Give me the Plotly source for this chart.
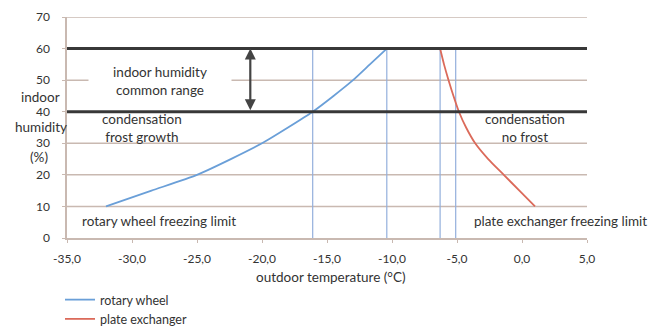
import plotly.graph_objects as go

# data
rotary_temp = [-32.0, -28.5, -25.0, -22.4, -20.0, -18.0, -16.1, -14.5, -13.0, -11.7, -10.4]
rotary_hum = [10, 15, 20, 25, 30, 35, 40, 45, 50, 55, 60]
plate_temp = [-6.3, -6.0, -5.65, -5.27, -4.85, -4.3, -3.6, -2.6, -1.4, -0.2, 1.0]
plate_hum = [60, 55, 50, 45, 40, 35, 30, 25, 20, 15, 10]
vlines_x = [-16.1, -10.4, -6.3, -5.1]
thin_grid_y = [10, 20, 30, 50, 70]
thick_grid_y = [40, 60]
x_ticks = [-35, -30, -25, -20, -15, -10, -5, 0, 5]
x_tick_text = ["-35,0", "-30,0", "-25,0", "-20,0", "-15,0", "-10,0", "-5,0", "0,0", "5,0"]
y_ticks = [0, 10, 20, 30, 40, 50, 60, 70]

FONT = "Lato"
TXT = "#333333"
GRID = "#c9b9b1"
FS = 13.5

fig = go.Figure()

shapes = []
for y in thin_grid_y:
    shapes.append(dict(type="line", xref="x", yref="y", x0=-35, x1=5, y0=y, y1=y,
                       line=dict(color=GRID, width=1.5), layer="below"))
for x in vlines_x:
    shapes.append(dict(type="line", xref="x", yref="y", x0=x, x1=x, y0=0, y1=60,
                       line=dict(color="#93afdc", width=1.2), layer="below"))
for y in thick_grid_y:
    shapes.append(dict(type="line", xref="x", yref="y", x0=-35, x1=5, y0=y, y1=y,
                       line=dict(color="#383838", width=3)))

fig.add_trace(go.Scatter(x=rotary_temp, y=rotary_hum, mode="lines", name="rotary wheel",
                         line=dict(color="#6a9fd8", width=1.8, shape="spline", smoothing=0.6)))
fig.add_trace(go.Scatter(x=plate_temp, y=plate_hum, mode="lines", name="plate exchanger",
                         line=dict(color="#db6a5a", width=1.8, shape="spline", smoothing=0.6)))

ann = []
def text(x, y, t, xanchor="center", bg=None, width=None, size=FS):
    d = dict(x=x, y=y, xref="paper", yref="paper", text=t, showarrow=False, xanchor=xanchor,
             yanchor="middle", align="center", font=dict(family=FONT, size=size, color=TXT))
    if bg:
        d["bgcolor"] = bg
    if width:
        d["width"] = width
    ann.append(d)

text(160, 81, "indoor humidity<br>common range", bg="white", width=140)
text(100, 128, "condensation<br>frost growth", xanchor="left")
text(525, 128, "condensation<br>no frost")
text(80, 221, "rotary wheel freezing limit", xanchor="left")
text(472, 221, "plate exchanger freezing limit", xanchor="left")
text(40, 97, "indoor")
text(41, 127, "humidity")
text(39, 157, "(%)")
text(331, 277, "outdoor temperature (°C)")

# convert pixel-based annotations to paper coords
W, H = 652, 327
L, R, T, B = 67, 65, 17, 89
pw, ph = W - L - R, H - T - B
for a in ann:
    a["x"] = (a["x"] - L) / pw
    a["y"] = 1 - (a["y"] - T) / ph

# double-headed arrow
ann.append(dict(x=-20.9, y=60, ax=-20.9, ay=40, xref="x", yref="y", axref="x", ayref="y",
                showarrow=True, arrowhead=2, startarrowhead=2, arrowside="end+start",
                arrowwidth=2.2, arrowcolor="#444", arrowsize=1, startarrowsize=1, text=""))

fig.update_layout(
    width=W, height=H,
    margin=dict(l=L, r=R, t=T, b=B, autoexpand=False),
    plot_bgcolor="white", paper_bgcolor="white",
    shapes=shapes, annotations=ann,
    showlegend=True,
    legend=dict(x=(60 - L) / pw, y=1 - (285 - T) / ph, xanchor="left", yanchor="top",
                bgcolor="rgba(0,0,0,0)", font=dict(family=FONT, size=12.5, color=TXT),
                tracegroupgap=0, itemwidth=30),
    xaxis=dict(range=[-35, 5], tickvals=x_ticks, ticktext=x_tick_text, showgrid=False,
               zeroline=False, showline=True, linecolor=GRID, linewidth=1.5,
               ticks="outside", ticklen=3, tickcolor=GRID, ticklabelstandoff=6,
               tickfont=dict(family=FONT, size=12, color=TXT)),
    yaxis=dict(range=[0, 70], tickvals=y_ticks, showgrid=False, zeroline=False,
               showline=True, linecolor=GRID, linewidth=1.5,
               ticks="outside", ticklen=3, tickcolor=GRID, ticklabelstandoff=10,
               tickfont=dict(family=FONT, size=12, color=TXT)),
    font=dict(family=FONT),
)

fig.write_html("out.html")
